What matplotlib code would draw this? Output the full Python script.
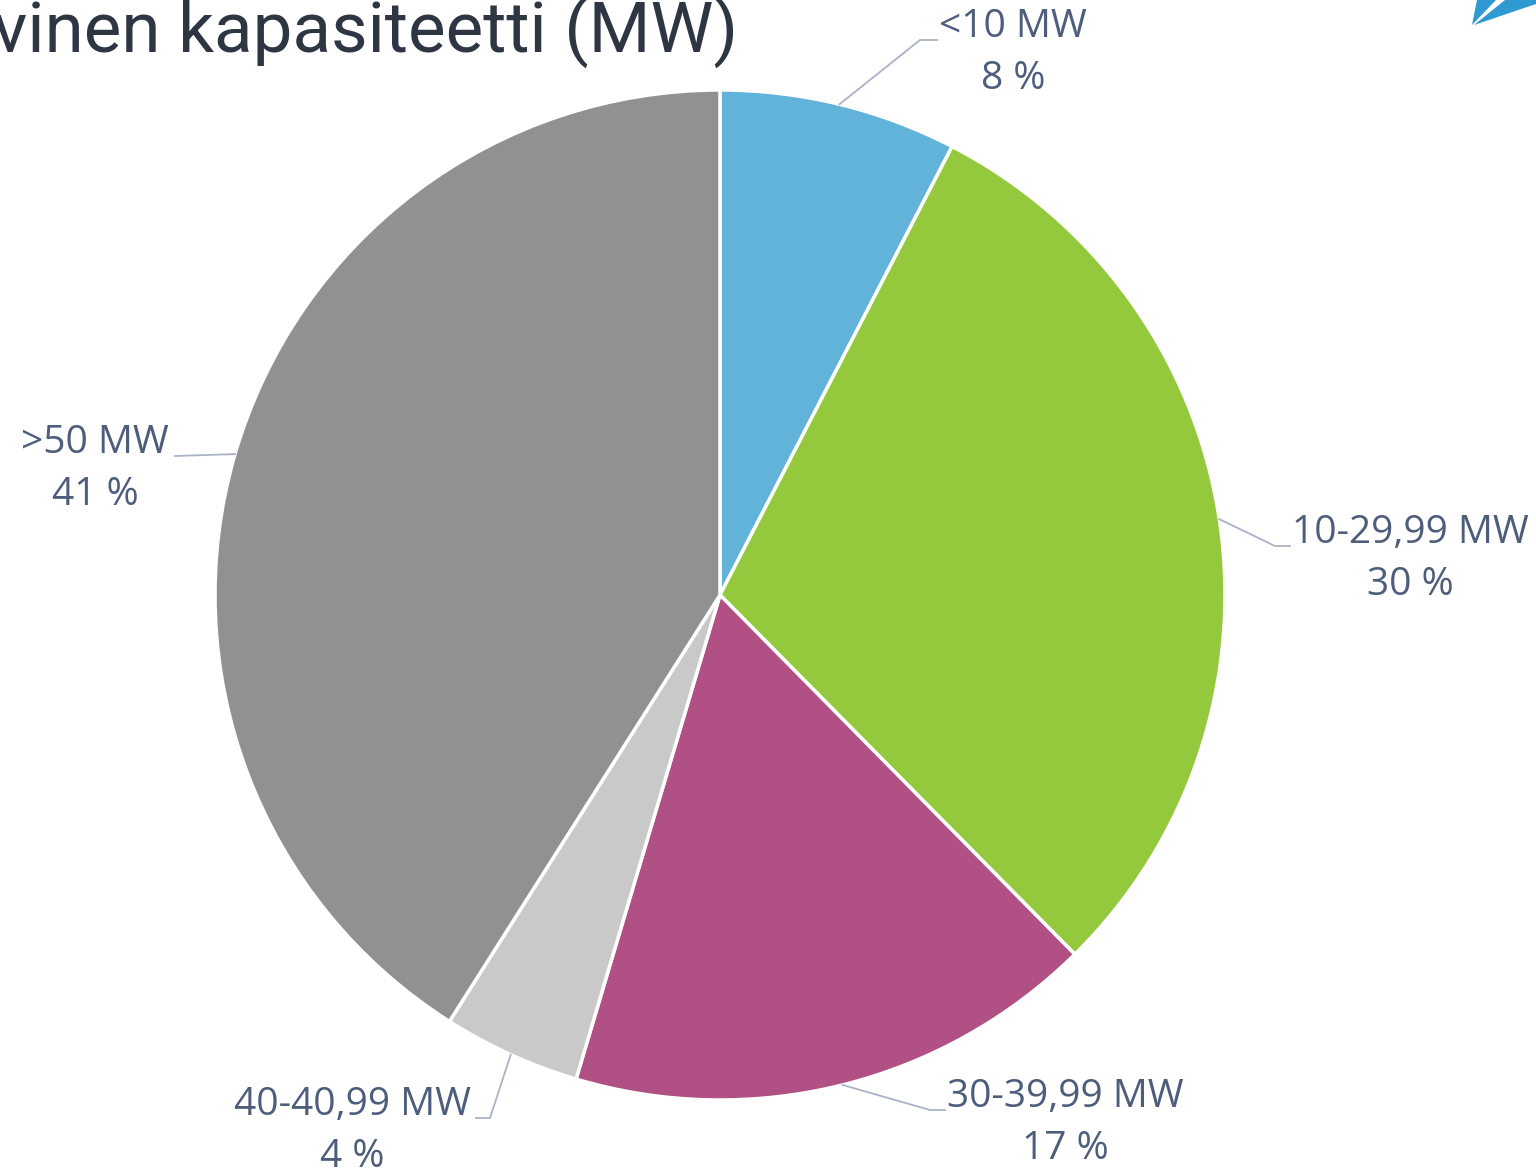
import numpy as np
import matplotlib.pyplot as plt
from matplotlib.patches import Polygon

# data
categories = ['<10 MW', '10-29,99 MW', '30-39,99 MW', '40-40,99 MW', '>50 MW']
shares = [7.6, 30.0, 17.0, 4.4, 41.0]
share_labels = ['8 %', '30 %', '17 %', '4 %', '41 %']
colors = ['#62b3d9', '#95c93d', '#b05084', '#c9c9c9', '#919191']
title = 'vinen kapasiteetti (MW)'

W, H = 1536, 1175
fig = plt.figure(figsize=(W / 100, H / 100), dpi=100)
ax = fig.add_axes([0, 0, 1, 1])

cx, cy, r = 720, 595, 505
# y axis is inverted, so counterclock=True draws clockwise on screen
wedges, _ = ax.pie(shares, colors=colors, startangle=-90, counterclock=True,
                   center=(cx, cy), radius=r, frame=True,
                   wedgeprops=dict(edgecolor='white', linewidth=2.5))
ax.set_xlim(0, W)
ax.set_ylim(H, 0)
ax.set_aspect('equal')
ax.axis('off')

# label layout: (elbow x, elbow y, end x, text center x, text y)
layout = [
    (920, 40, 937, 1013, 27),
    (1275, 546, 1290, 1410, 533),
    (930, 1110, 945, 1065, 1097),
    (490, 1118, 476, 352, 1105),
    (175, 456, 175, 95, 443),
]
label_color = '#4e5d7c'
line_color = '#aab3c6'
for w, cat, pct, (ex, ey, endx, tx, ty) in zip(wedges, categories, share_labels, layout):
    ang = np.deg2rad((w.theta1 + w.theta2) / 2)
    sx = cx + r * np.cos(ang)
    sy = cy + r * np.sin(ang)
    ax.plot([sx, ex, endx], [sy, ey, ey], color=line_color, lw=1.3,
            solid_joinstyle='miter')
    ax.text(tx, ty, cat, ha='center', va='center', fontsize=28,
            family='Open Sans', color=label_color)
    ax.text(tx, ty + 52, pct, ha='center', va='center', fontsize=28,
            family='Open Sans', color=label_color)

ax.text(738, 52, title, ha='right', va='baseline', fontsize=51,
        family=['Roboto', 'DejaVu Sans'], color='#2e3644')

# corner logo fragment
ax.add_patch(Polygon([(1472, 25), (1477, 0), (1496, 0)], closed=True,
                     color='#2f9ad0', lw=0))
ax.add_patch(Polygon([(1474, 25), (1505, 0), (1536, 0), (1536, 4)], closed=True,
                     color='#2f9ad0', lw=0))

fig.savefig('out.png', dpi=100)
